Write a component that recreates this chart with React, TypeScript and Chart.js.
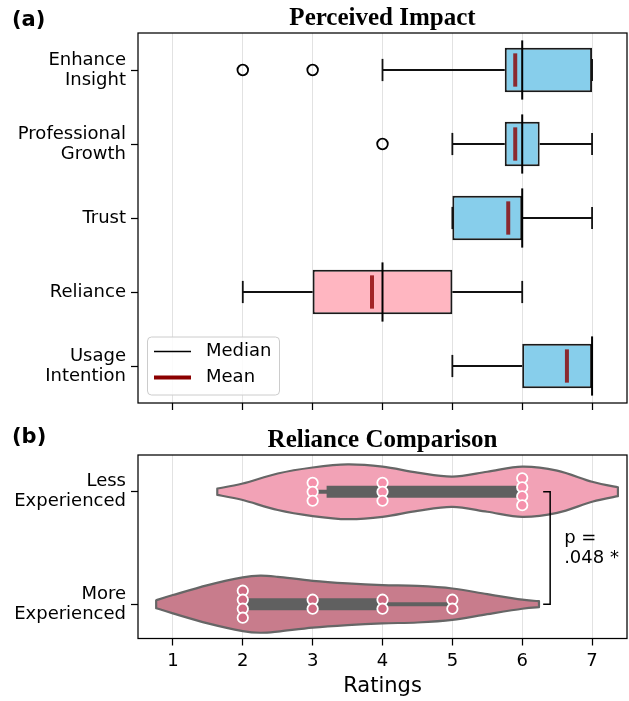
import React, { useEffect, useRef } from 'react';
import { Chart, registerables } from 'chart.js';

Chart.register(...registerables);

// ---------- Panel (a): Perceived Impact ----------
const impactCategories: (string | string[])[] = [
  ['Enhance', 'Insight'],
  ['Professional', 'Growth'],
  'Trust',
  'Reliance',
  ['Usage', 'Intention'],
];
const whiskerLow = [4, 5, 5, 2, 5];
const quartile1 = [5.75, 5.75, 5, 3, 6];
const medians = [6, 6, 6, 4, 7];
const quartile3 = [7, 6.25, 6, 5, 7];
const whiskerHigh = [7, 7, 7, 6, 7];
const means = [5.9, 5.9, 5.8, 3.85, 6.64];
const outliers: number[][] = [[2, 3], [4], [], [], []];
const boxColors = ['#87CEEB', '#87CEEB', '#87CEEB', '#FFB6C1', '#87CEEB'];

const xTicks = [1, 2, 3, 4, 5, 6, 7];

// ---------- Panel (b): Reliance Comparison ----------
const groupLabels: string[][] = [
  ['Less', 'Experienced'],
  ['More', 'Experienced'],
];
const lessRatings = [3, 3, 3, 4, 4, 4, 6, 6, 6, 6];
const moreRatings = [2, 2, 2, 2, 3, 3, 4, 4, 5, 5];
// inner box (min, q1, q3, max)
const lessBox = [3, 3.2, 6, 6];
const moreBox = [2, 2, 4, 5];
// violin density profiles (relative)
const lessGrid = [1.635, 2.0, 2.5, 3.0, 3.5, 4.0, 4.5, 5.0, 5.5, 6.0, 6.5, 7.0, 7.37];
const lessDensity = [0.11, 0.29, 0.64, 0.85, 0.96, 0.88, 0.67, 0.53, 0.7, 0.88, 0.74, 0.35, 0.155];
const moreGrid = [0.76, 1.0, 1.5, 2.0, 2.25, 2.5, 3.0, 3.5, 4.0, 4.5, 5.0, 5.5, 6.0, 6.24];
const moreDensity = [0.14, 0.32, 0.67, 0.94, 1.0, 0.96, 0.82, 0.73, 0.67, 0.64, 0.55, 0.35, 0.16, 0.105];
const pValueLines = ['p =', '.048 *'];

// ---------- styles ----------
const SANS = '"DejaVu Sans", sans-serif';
const SERIF = '"Liberation Serif", serif';
const GRID_COLOR = '#e2e2e2';
const VIOLIN_HALF = 0.254;
const violinFills = ['#F2A2B6', '#C87C8C'];
const dotFills = ['#F590AB', '#CF6A82'];

function line(ctx: CanvasRenderingContext2D, x1: number, y1: number, x2: number, y2: number) {
  ctx.beginPath();
  ctx.moveTo(x1, y1);
  ctx.lineTo(x2, y2);
  ctx.stroke();
}

function drawTitle(chart: any, text: string, tag: string, tagOffset: number) {
  const { ctx, chartArea } = chart;
  ctx.save();
  ctx.fillStyle = '#000';
  ctx.font = `bold 25px ${SERIF}`;
  ctx.textAlign = 'center';
  ctx.textBaseline = 'alphabetic';
  ctx.fillText(text, (chartArea.left + chartArea.right) / 2, chartArea.top - 8);
  ctx.font = `bold 21px ${SANS}`;
  ctx.textAlign = 'left';
  ctx.fillText(tag, 12, chartArea.top - tagOffset);
  // frame
  ctx.strokeStyle = '#000';
  ctx.lineWidth = 1.25;
  ctx.strokeRect(chartArea.left, chartArea.top, chartArea.right - chartArea.left, chartArea.bottom - chartArea.top);
  ctx.restore();
}

const boxPlugin = {
  id: 'boxExtras',
  afterDatasetsDraw(chart: any) {
    const { ctx } = chart;
    const x = chart.scales.x;
    const y = chart.scales.y;
    const unit = Math.abs(y.getPixelForValue(1) - y.getPixelForValue(0));
    ctx.save();
    ctx.lineCap = 'butt';
    for (let i = 0; i < medians.length; i++) {
      const cy = y.getPixelForValue(i);
      ctx.strokeStyle = '#111';
      ctx.lineWidth = 1.8;
      line(ctx, x.getPixelForValue(whiskerLow[i]), cy, x.getPixelForValue(quartile1[i]), cy);
      line(ctx, x.getPixelForValue(quartile3[i]), cy, x.getPixelForValue(whiskerHigh[i]), cy);
      const cap = unit * 0.15;
      line(ctx, x.getPixelForValue(whiskerLow[i]), cy - cap, x.getPixelForValue(whiskerLow[i]), cy + cap);
      line(ctx, x.getPixelForValue(whiskerHigh[i]), cy - cap, x.getPixelForValue(whiskerHigh[i]), cy + cap);
      // mean
      ctx.strokeStyle = 'rgba(139,0,0,0.8)';
      ctx.lineWidth = 4;
      const mh = unit * 0.225;
      line(ctx, x.getPixelForValue(means[i]), cy - mh, x.getPixelForValue(means[i]), cy + mh);
      // median
      ctx.strokeStyle = '#000';
      ctx.lineWidth = 2;
      const md = unit * 0.4;
      line(ctx, x.getPixelForValue(medians[i]), cy - md, x.getPixelForValue(medians[i]), cy + md);
      // outliers
      ctx.lineWidth = 1.8;
      ctx.strokeStyle = '#000';
      for (const o of outliers[i]) {
        ctx.beginPath();
        ctx.arc(x.getPixelForValue(o), cy, 5.3, 0, Math.PI * 2);
        ctx.stroke();
      }
    }
    ctx.restore();
  },
  afterDraw(chart: any) {
    drawTitle(chart, 'Perceived Impact', '(a)', 7);
    const { ctx, chartArea } = chart;
    // legend
    ctx.save();
    const lx = chartArea.left + 9;
    const lw = 132;
    const lh = 58;
    const ly = chartArea.bottom - 8.5 - lh;
    ctx.fillStyle = 'rgba(255,255,255,0.85)';
    ctx.strokeStyle = '#cccccc';
    ctx.lineWidth = 1;
    ctx.beginPath();
    (ctx as any).roundRect(lx + 0.5, ly + 0.5, lw, lh, 4);
    ctx.fill();
    ctx.stroke();
    ctx.strokeStyle = '#000';
    ctx.lineWidth = 1.5;
    line(ctx, lx + 7, ly + 15, lx + 44, ly + 15);
    ctx.strokeStyle = '#8B0000';
    ctx.lineWidth = 4;
    line(ctx, lx + 7, ly + 41, lx + 44, ly + 41);
    ctx.fillStyle = '#000';
    ctx.font = `18px ${SANS}`;
    ctx.textAlign = 'left';
    ctx.textBaseline = 'middle';
    ctx.fillText('Median', lx + 59, ly + 15);
    ctx.fillText('Mean', lx + 59, ly + 41);
    ctx.restore();
  },
};

function smoothPath(ctx: CanvasRenderingContext2D, pts: number[][], moveFirst: boolean) {
  if (moveFirst) ctx.moveTo(pts[0][0], pts[0][1]);
  else ctx.lineTo(pts[0][0], pts[0][1]);
  for (let i = 0; i < pts.length - 1; i++) {
    const p0 = pts[Math.max(0, i - 1)];
    const p1 = pts[i];
    const p2 = pts[i + 1];
    const p3 = pts[Math.min(pts.length - 1, i + 2)];
    const c1x = p1[0] + (p2[0] - p0[0]) / 6;
    const c1y = p1[1] + (p2[1] - p0[1]) / 6;
    const c2x = p2[0] - (p3[0] - p1[0]) / 6;
    const c2y = p2[1] - (p3[1] - p1[1]) / 6;
    ctx.bezierCurveTo(c1x, c1y, c2x, c2y, p2[0], p2[1]);
  }
}

const violinPlugin = {
  id: 'violinExtras',
  afterDatasetsDraw(chart: any) {
    const { ctx, chartArea } = chart;
    const x = chart.scales.x;
    const y = chart.scales.y;
    const unit = Math.abs(y.getPixelForValue(1) - y.getPixelForValue(0));
    const grids = [lessGrid, moreGrid];
    const dens = [lessDensity, moreDensity];
    const boxes = [lessBox, moreBox];
    const ratings = [lessRatings, moreRatings];
    ctx.save();
    ctx.beginPath();
    ctx.rect(chartArea.left, chartArea.top, chartArea.right - chartArea.left, chartArea.bottom - chartArea.top);
    ctx.clip();
    for (let g = 0; g < 2; g++) {
      const cy = y.getPixelForValue(g);
      const top = grids[g].map((v, i) => [x.getPixelForValue(v), cy - dens[g][i] * VIOLIN_HALF * unit]);
      const bottom = grids[g].map((v, i) => [x.getPixelForValue(v), cy + dens[g][i] * VIOLIN_HALF * unit]).reverse();
      ctx.beginPath();
      smoothPath(ctx, top, true);
      smoothPath(ctx, bottom, false);
      ctx.closePath();
      ctx.fillStyle = violinFills[g];
      ctx.fill();
      ctx.strokeStyle = '#666666';
      ctx.lineWidth = 2.2;
      ctx.lineJoin = 'round';
      ctx.stroke();
      // inner box
      const b = boxes[g];
      ctx.strokeStyle = '#606060';
      ctx.lineCap = 'butt';
      ctx.lineWidth = 4;
      line(ctx, x.getPixelForValue(b[0]), cy, x.getPixelForValue(b[3]), cy);
      ctx.lineWidth = 12;
      line(ctx, x.getPixelForValue(b[1]), cy, x.getPixelForValue(b[2]), cy);
      // swarm dots
      const counts = new Map<number, number>();
      for (const r of ratings[g]) counts.set(r, (counts.get(r) || 0) + 1);
      ctx.fillStyle = dotFills[g];
      ctx.strokeStyle = '#ffffff';
      ctx.lineWidth = 1.8;
      counts.forEach((n, v) => {
        for (let k = 0; k < n; k++) {
          const off = (k - (n - 1) / 2) * 9;
          ctx.beginPath();
          ctx.arc(x.getPixelForValue(v), cy + off, 5.2, 0, Math.PI * 2);
          ctx.fill();
          ctx.stroke();
        }
      });
    }
    ctx.restore();
    // significance bracket
    ctx.save();
    ctx.strokeStyle = '#000';
    ctx.lineWidth = 1.5;
    const bx = x.getPixelForValue(6.4);
    const bt = x.getPixelForValue(6.3);
    const y0 = y.getPixelForValue(0);
    const y1 = y.getPixelForValue(1);
    ctx.beginPath();
    ctx.moveTo(bt, y0);
    ctx.lineTo(bx, y0);
    ctx.lineTo(bx, y1);
    ctx.lineTo(bt, y1);
    ctx.stroke();
    ctx.fillStyle = '#000';
    ctx.font = `18px ${SANS}`;
    ctx.textAlign = 'left';
    ctx.textBaseline = 'middle';
    const ym = y.getPixelForValue(0.5);
    const tx = x.getPixelForValue(6.6);
    ctx.fillText(pValueLines[0], tx, ym - 10);
    ctx.fillText(pValueLines[1], tx, ym + 10);
    ctx.restore();
  },
  afterDraw(chart: any) {
    drawTitle(chart, 'Reliance Comparison', '(b)', 12);
    const { ctx, chartArea } = chart;
    ctx.save();
    ctx.fillStyle = '#000';
    ctx.font = `21px ${SANS}`;
    ctx.textAlign = 'center';
    ctx.textBaseline = 'alphabetic';
    ctx.fillText('Ratings', (chartArea.left + chartArea.right) / 2, chartArea.bottom + 53);
    ctx.restore();
  },
};

const tickGrid = { color: GRID_COLOR, lineWidth: 1, tickColor: '#000', tickLength: 7, tickWidth: 1.25 };

export default function App() {
  const refA = useRef<HTMLCanvasElement>(null);
  const refB = useRef<HTMLCanvasElement>(null);

  useEffect(() => {
    Chart.defaults.font.family = SANS;
    Chart.defaults.color = '#000';
    const chartA = new Chart(refA.current as HTMLCanvasElement, {
      type: 'bar',
      data: {
        labels: impactCategories as any,
        datasets: [
          {
            data: quartile1.map((v, i) => [v, quartile3[i]]) as any,
            backgroundColor: boxColors,
            borderColor: '#1a1a1a',
            borderWidth: 2,
            borderSkipped: false,
            barPercentage: 0.6,
            categoryPercentage: 1,
          },
        ],
      },
      options: {
        indexAxis: 'y',
        responsive: false,
        animation: false,
        layout: { padding: { top: 33, left: 0, right: 2, bottom: 2 } },
        plugins: { legend: { display: false }, tooltip: { enabled: false }, title: { display: false } },
        scales: {
          x: {
            type: 'linear',
            min: 0.5,
            max: 7.5,
            afterBuildTicks: (s: any) => {
              s.ticks = xTicks.map((v) => ({ value: v }));
            },
            ticks: { display: false },
            grid: tickGrid,
            border: { display: false },
            afterFit: (s: any) => {
              s.height = 8;
              s.paddingLeft = 0;
              s.paddingRight = 0;
            },
          },
          y: {
            type: 'category',
            offset: true,
            grid: { ...tickGrid, offset: false, drawOnChartArea: false },
            border: { display: false },
            ticks: { color: '#000', font: { size: 18, lineHeight: '20px' }, padding: 5 },
            afterFit: (s: any) => {
              s.width = 138;
              s.paddingTop = 0;
              s.paddingBottom = 0;
            },
          },
        },
      } as any,
      plugins: [boxPlugin],
    });

    const chartB = new Chart(refB.current as HTMLCanvasElement, {
      type: 'scatter',
      data: { datasets: [{ data: [] }] },
      options: {
        responsive: false,
        animation: false,
        layout: { padding: { top: 35, left: 0, right: 2, bottom: 0 } },
        plugins: { legend: { display: false }, tooltip: { enabled: false }, title: { display: false } },
        scales: {
          x: {
            type: 'linear',
            min: 0.5,
            max: 7.5,
            afterBuildTicks: (s: any) => {
              s.ticks = xTicks.map((v) => ({ value: v }));
            },
            ticks: { color: '#000', font: { size: 18 }, padding: 5 },
            grid: tickGrid,
            border: { display: false },
            afterFit: (s: any) => {
              s.height = 62.5;
              s.paddingLeft = 0;
              s.paddingRight = 0;
            },
          },
          y: {
            type: 'linear',
            reverse: true,
            min: -0.327,
            max: 1.305,
            afterBuildTicks: (s: any) => {
              s.ticks = [0, 1].map((v) => ({ value: v }));
            },
            grid: { ...tickGrid, drawOnChartArea: false },
            border: { display: false },
            ticks: {
              color: '#000',
              font: { size: 18, lineHeight: '20px' },
              padding: 5,
              callback: (_v: any, i: number) => groupLabels[i],
            },
            afterFit: (s: any) => {
              s.width = 138;
              s.paddingTop = 0;
              s.paddingBottom = 0;
            },
          },
        },
      } as any,
      plugins: [violinPlugin],
    });

    return () => {
      chartA.destroy();
      chartB.destroy();
    };
  }, []);

  return (
    <div style={{ position: 'absolute', left: 0, top: 0, width: 629, height: 701, background: '#fff' }}>
      <canvas ref={refA} width={629} height={413} style={{ position: 'absolute', left: 0, top: 0 }} />
      <canvas ref={refB} width={629} height={281} style={{ position: 'absolute', left: 0, top: 420 }} />
    </div>
  );
}
